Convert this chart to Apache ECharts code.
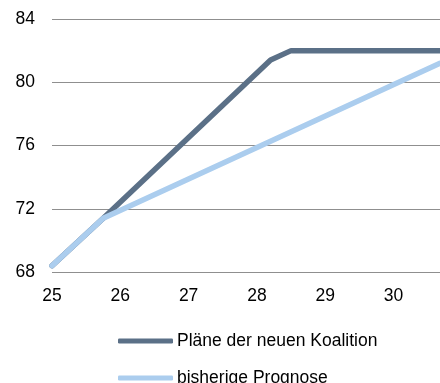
<!DOCTYPE html>
<html>
<head>
<meta charset="utf-8">
<script src="https://cdn.jsdelivr.net/npm/echarts@6/dist/echarts.min.js"></script>
<style>
html,body{margin:0;padding:0;background:#fff;}
#main{width:440px;height:383px;}
</style>
</head>
<body>
<div id="main"></div>
<script>
// data
var seriesNames = ['Pläne der neuen Koalition', 'bisherige Prognose'];
var koalitionX = [25, 25.75, 28.2, 28.5, 30.68];
var koalitionY = [68.4, 71.4, 81.4, 82, 82];
var prognoseX = [25, 25.75, 30.68];
var prognoseY = [68.4, 71.4, 81.2];
var yTicks = [68, 72, 76, 80, 84];
var xTicks = [25, 26, 27, 28, 29, 30];

function pairs(xs, ys){
    var out = [];
    for(var i = 0; i < xs.length; i ++){
        out.push([xs[i], ys[i]]);
    }
    return out;
}

var myChart = echarts.init(document.getElementById('main'));
var fontFam = '"Liberation Sans", Arial, sans-serif';

var option = {
    animation: false,
    grid: {
        left: 52,
        right: 0,
        top: 19,
        bottom: 111
    },
    legend: {
        orient: 'vertical',
        left: 113,
        top: 327,
        height: 120,
        itemGap: 19,
        itemWidth: 55,
        itemHeight: 5,
        icon: 'roundRect',
        textStyle: {
            fontFamily: fontFam,
            fontSize: 17.5,
            color: '#000',
            padding: [0, 0, 0, -1]
        },
        data: seriesNames
    },
    xAxis: {
        type: 'value',
        min: xTicks[0],
        max: 30.68,
        interval: 1,
        axisLine: {show: false},
        axisTick: {show: false},
        splitLine: {show: false},
        axisLabel: {
            margin: 15,
            fontFamily: fontFam,
            fontSize: 17.5,
            color: '#000',
            showMaxLabel: false,
            formatter: function(v){
                return xTicks.indexOf(v) >= 0 ? String(v) : '';
            }
        }
    },
    yAxis: {
        type: 'value',
        min: yTicks[0],
        max: yTicks[yTicks.length - 1],
        interval: 4,
        axisLine: {show: false},
        axisTick: {show: false},
        axisLabel: {
            margin: 17,
            fontFamily: fontFam,
            fontSize: 17.5,
            color: '#000'
        },
        splitLine: {
            lineStyle: {color: '#8f8f8f', width: 1}
        }
    },
    series: [
        {
            name: seriesNames[0],
            type: 'line',
            symbol: 'none',
            data: pairs(koalitionX, koalitionY),
            itemStyle: {color: '#5b7087'},
            lineStyle: {color: '#5b7087', width: 5.5, cap: 'round', join: 'round'}
        },
        {
            name: seriesNames[1],
            type: 'line',
            symbol: 'none',
            data: pairs(prognoseX, prognoseY),
            itemStyle: {color: '#abcdee'},
            lineStyle: {color: '#abcdee', width: 5.5, cap: 'round', join: 'round'}
        }
    ]
};
myChart.setOption(option);
</script>
</body>
</html>
